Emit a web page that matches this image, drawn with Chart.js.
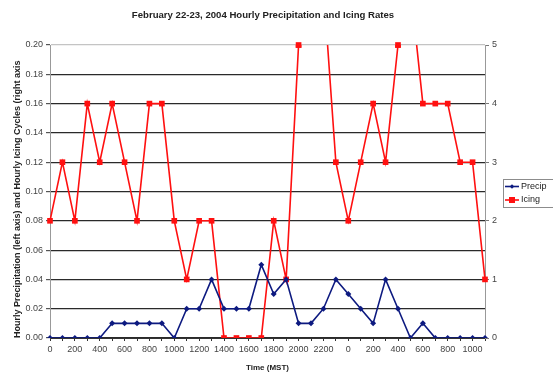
<!DOCTYPE html>
<html>
<head>
<meta charset="utf-8">
<script src="https://cdn.jsdelivr.net/npm/chart.js@4.4.1/dist/chart.umd.min.js"></script>
<style>
  html, body { margin: 0; padding: 0; background: #fff; }
  #wrap { width: 553px; height: 377px; }
</style>
</head>
<body>
<div id="wrap"><canvas id="c" width="553" height="377"></canvas></div>
<script>
// Hourly observations, Feb 22 00:00 MST through Feb 23 11:00 MST
const hours = ['0','100','200','300','400','500','600','700','800','900','1000','1100',
               '1200','1300','1400','1500','1600','1700','1800','1900','2000','2100','2200','2300',
               '0','100','200','300','400','500','600','700','800','900','1000','1100'];

// Hourly precipitation (left axis)
const precip = [0, 0, 0, 0, 0, 0.01, 0.01, 0.01, 0.01, 0.01, 0, 0.02,
                0.02, 0.04, 0.02, 0.02, 0.02, 0.05, 0.03, 0.04, 0.01, 0.01, 0.02, 0.04,
                0.03, 0.02, 0.01, 0.04, 0.02, 0, 0.01, 0, 0, 0, 0, 0];

// Hourly icing cycles (right axis)
const icing = [2, 3, 2, 4, 3, 4, 3, 2, 4, 4, 2, 1,
               2, 2, 0, 0, 0, 0, 2, 1, 5, 6, 6, 3,
               2, 3, 4, 3, 5, 6, 4, 4, 4, 3, 3, 1];

const chartTitle = 'February 22-23, 2004 Hourly Precipitation and Icing Rates';

const FONT = "'Liberation Sans', Arial, sans-serif";

// Markers sitting exactly on the top edge are clipped with the line; redraw them whole.
const edgeMarkers = {
  id: 'edgeMarkers',
  afterDatasetsDraw(chart) {
    const area = chart.chartArea;
    const ctx = chart.ctx;
    chart.data.datasets.forEach((ds, i) => {
      chart.getDatasetMeta(i).data.forEach(pt => {
        if (pt.y >= area.top - 0.5 && pt.y < area.top + 5) pt.draw(ctx, area);
      });
    });
  }
};

// Title centred over the plot area
const plotTitle = {
  id: 'plotTitle',
  afterDraw(chart) {
    const ctx = chart.ctx;
    ctx.save();
    ctx.fillStyle = '#222';
    ctx.font = 'bold 9.6px ' + FONT;
    ctx.textAlign = 'center';
    ctx.textBaseline = 'middle';
    ctx.fillText(chartTitle, 263, 15.5);
    ctx.restore();
  }
};

// Small boxed legend at the right of the plot
const sideLegend = {
  id: 'sideLegend',
  afterDraw(chart) {
    const ctx = chart.ctx;
    ctx.save();
    ctx.strokeStyle = '#8c8c8c';
    ctx.lineWidth = 1;
    ctx.strokeRect(503.5, 179.5, 56, 28);
    chart.data.datasets.forEach((ds, i) => {
      const y = 186.5 + i * 13.5;
      ctx.strokeStyle = ds.borderColor;
      ctx.fillStyle = ds.backgroundColor;
      ctx.lineWidth = ds.borderWidth;
      ctx.beginPath();
      ctx.moveTo(505, y);
      ctx.lineTo(519, y);
      ctx.stroke();
      const cx = 512, r = ds.pointRadius * 0.75;
      ctx.beginPath();
      if (ds.pointStyle === 'rectRot') {
        ctx.moveTo(cx, y - r); ctx.lineTo(cx + r, y); ctx.lineTo(cx, y + r); ctx.lineTo(cx - r, y);
      } else {
        ctx.rect(cx - r, y - r, 2 * r, 2 * r);
      }
      ctx.closePath();
      ctx.fill();
      ctx.fillStyle = '#222';
      ctx.font = '9px ' + FONT;
      ctx.textBaseline = 'middle';
      ctx.textAlign = 'left';
      ctx.fillText(ds.label, 521, y);
    });
    ctx.restore();
  }
};

new Chart(document.getElementById('c'), {
  type: 'line',
  data: {
    labels: hours,
    datasets: [
      {
        label: 'Precip',
        data: precip,
        yAxisID: 'y',
        borderColor: '#0d1a80',
        backgroundColor: '#0d1a80',
        borderWidth: 1.6,
        pointStyle: 'rectRot',
        pointRadius: 3,
        pointBorderWidth: 0,
        tension: 0
      },
      {
        label: 'Icing',
        data: icing,
        yAxisID: 'y1',
        borderColor: '#ff1010',
        backgroundColor: '#ff1010',
        borderWidth: 1.6,
        pointStyle: 'rect',
        pointRadius: 4,
        pointBorderWidth: 0,
        tension: 0
      }
    ]
  },
  options: {
    responsive: false,
    animation: false,
    devicePixelRatio: 1,
    layout: { padding: { left: 0, right: 0, top: 45, bottom: 0 } },
    plugins: {
      legend: { display: false },
      tooltip: { enabled: false },
      title: { display: false }
    },
    scales: {
      x: {
        type: 'category',
        offset: false,
        grid: { drawOnChartArea: false, drawTicks: true, tickLength: 3, tickColor: '#333', lineWidth: 1 },
        border: { color: '#333', width: 1 },
        ticks: {
          autoSkip: false,
          maxRotation: 0,
          minRotation: 0,
          padding: 3,
          color: '#444',
          font: { family: FONT, size: 9 },
          callback: function (value, index) { return index % 2 === 0 ? this.getLabelForValue(value) : ''; }
        },
        title: {
          display: true,
          text: 'Time (MST)',
          color: '#222',
          font: { family: FONT, size: 8, weight: 'bold' },
          padding: { top: 0, bottom: 4 }
        },
        afterFit(scale) { scale.height = 39; }
      },
      y: {
        position: 'left',
        min: 0,
        max: 0.2,
        ticks: {
          stepSize: 0.02,
          padding: 3,
          color: '#444',
          font: { family: FONT, size: 9 },
          callback: v => Number(v).toFixed(2)
        },
        grid: {
          color: ctx => (ctx.index === 10 ? '#c4c4c4' : '#2a2a2a'),
          tickColor: '#555',
          tickLength: 4,
          lineWidth: 1.2
        },
        border: { color: '#999', width: 1 },
        title: {
          display: true,
          align: 'start',
          text: 'Hourly Precipitation (left axis) and Hourly Icing Cycles (right axis',
          color: '#222',
          font: { family: FONT, size: 9, weight: 'bold' },
          padding: { top: 12, bottom: 0 }
        },
        afterFit(scale) { scale.width = 50; }
      },
      y1: {
        position: 'right',
        min: 0,
        max: 5,
        ticks: {
          stepSize: 1,
          padding: 3,
          color: '#444',
          font: { family: FONT, size: 9 }
        },
        grid: { drawOnChartArea: false, tickColor: '#777', tickLength: 4 },
        border: { color: '#999', width: 1 },
        afterFit(scale) { scale.width = 68; }
      }
    }
  },
  plugins: [edgeMarkers, plotTitle, sideLegend]
});
</script>
</body>
</html>
